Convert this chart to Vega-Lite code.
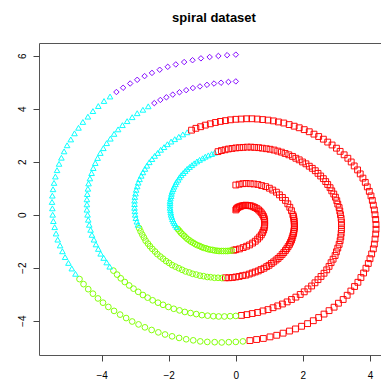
{
  "$schema": "https://vega.github.io/schema/vega-lite/v6.json",
  "width": 350,
  "height": 312,
  "autosize": {"type": "none"},
  "padding": {"left": 39, "top": 43, "right": -8, "bottom": 29},
  "background": "white",
  "title": {"text": "spiral dataset", "font": "Liberation Sans", "fontSize": 13, "fontWeight": "bold", "color": "#000000", "anchor": "middle", "frame": "group", "baseline": "alphabetic", "offset": 8},
  "config": {
    "view": {"stroke": "#555555", "strokeWidth": 1},
    "axis": {"grid": false, "domain": false, "tickColor": "#444444", "tickSize": 6, "labelFont": "Liberation Sans", "labelFontSize": 10, "labelColor": "#000000", "title": null}
  },
  "data": {"values": [
    {"x":0,"y":0.18,"c":1},{"x":0.02,"y":0.22,"c":1},{"x":0.04,"y":0.25,"c":1},{"x":0.07,"y":0.28,"c":1},{"x":0.11,"y":0.30,"c":1},{"x":0.15,"y":0.32,"c":1},{"x":0.20,"y":0.34,"c":1},{"x":0.25,"y":0.35,"c":1},{"x":0.30,"y":0.36,"c":1},
    {"x":0.35,"y":0.35,"c":1},{"x":0.41,"y":0.34,"c":1},{"x":0.46,"y":0.33,"c":1},{"x":0.52,"y":0.30,"c":1},{"x":0.57,"y":0.27,"c":1},{"x":0.63,"y":0.23,"c":1},{"x":0.68,"y":0.18,"c":1},{"x":0.72,"y":0.13,"c":1},{"x":0.76,"y":0.07,"c":1},
    {"x":0.80,"y":0,"c":1},{"x":0.83,"y":-0.07,"c":1},{"x":0.85,"y":-0.15,"c":1},{"x":0.86,"y":-0.23,"c":1},{"x":0.86,"y":-0.31,"c":1},{"x":0.86,"y":-0.40,"c":1},{"x":0.85,"y":-0.49,"c":1},{"x":0.83,"y":-0.58,"c":1},{"x":0.80,"y":-0.67,"c":1},
    {"x":0.76,"y":-0.76,"c":1},{"x":0.71,"y":-0.84,"c":1},{"x":0.65,"y":-0.92,"c":1},{"x":0.58,"y":-1.00,"c":1},{"x":0.50,"y":-1.07,"c":1},{"x":0.41,"y":-1.14,"c":1},{"x":0.32,"y":-1.19,"c":1},{"x":0.22,"y":-1.24,"c":1},{"x":0.11,"y":-1.29,"c":1},
    {"x":0,"y":-1.32,"c":1},{"x":-0.06,"y":-1.34,"c":1},
    {"x":-0.12,"y":-1.35,"c":2},{"x":-0.18,"y":-1.36,"c":2},{"x":-0.24,"y":-1.37,"c":2},{"x":-0.30,"y":-1.37,"c":2},{"x":-0.37,"y":-1.37,"c":2},{"x":-0.43,"y":-1.37,"c":2},{"x":-0.50,"y":-1.37,"c":2},{"x":-0.56,"y":-1.36,"c":2},{"x":-0.63,"y":-1.35,"c":2},{"x":-0.69,"y":-1.33,"c":2},{"x":-0.76,"y":-1.32,"c":2},{"x":-0.83,"y":-1.30,"c":2},{"x":-0.89,"y":-1.27,"c":2},{"x":-0.96,"y":-1.25,"c":2},{"x":-1.02,"y":-1.22,"c":2},{"x":-1.08,"y":-1.18,"c":2},
    {"x":-1.15,"y":-1.15,"c":2},{"x":-1.21,"y":-1.11,"c":2},{"x":-1.27,"y":-1.06,"c":2},{"x":-1.33,"y":-1.02,"c":2},{"x":-1.38,"y":-0.97,"c":2},{"x":-1.44,"y":-0.92,"c":2},{"x":-1.49,"y":-0.86,"c":2},{"x":-1.54,"y":-0.80,"c":2},{"x":-1.59,"y":-0.74,"c":2},{"x":-1.64,"y":-0.68,"c":2},{"x":-1.68,"y":-0.61,"c":2},{"x":-1.73,"y":-0.54,"c":2},
    {"x":-1.76,"y":-0.47,"c":3},{"x":-1.80,"y":-0.40,"c":3},{"x":-1.83,"y":-0.32,"c":3},{"x":-1.86,"y":-0.25,"c":3},{"x":-1.89,"y":-0.17,"c":3},{"x":-1.91,"y":-0.08,"c":3},
    {"x":-1.93,"y":0,"c":3},{"x":-1.94,"y":0.08,"c":3},{"x":-1.95,"y":0.17,"c":3},{"x":-1.96,"y":0.26,"c":3},{"x":-1.96,"y":0.35,"c":3},{"x":-1.96,"y":0.44,"c":3},{"x":-1.96,"y":0.52,"c":3},{"x":-1.95,"y":0.61,"c":3},{"x":-1.93,"y":0.70,"c":3},{"x":-1.92,"y":0.79,"c":3},{"x":-1.90,"y":0.88,"c":3},{"x":-1.87,"y":0.97,"c":3},{"x":-1.84,"y":1.06,"c":3},{"x":-1.80,"y":1.15,"c":3},{"x":-1.77,"y":1.24,"c":3},{"x":-1.72,"y":1.32,"c":3},{"x":-1.68,"y":1.41,"c":3},{"x":-1.63,"y":1.49,"c":3},
    {"x":-1.57,"y":1.57,"c":3},{"x":-1.51,"y":1.65,"c":3},{"x":-1.45,"y":1.73,"c":3},{"x":-1.38,"y":1.80,"c":3},{"x":-1.31,"y":1.87,"c":3},{"x":-1.24,"y":1.94,"c":3},{"x":-1.16,"y":2.01,"c":3},{"x":-1.08,"y":2.07,"c":3},{"x":-0.99,"y":2.13,"c":3},{"x":-0.91,"y":2.19,"c":3},{"x":-0.82,"y":2.24,"c":3},{"x":-0.72,"y":2.29,"c":3},{"x":-0.63,"y":2.34,"c":3},
    {"x":-0.53,"y":2.38,"c":1},{"x":-0.43,"y":2.42,"c":1},{"x":-0.32,"y":2.45,"c":1},{"x":-0.22,"y":2.48,"c":1},{"x":-0.11,"y":2.50,"c":1},
    {"x":0,"y":2.52,"c":1},{"x":0.11,"y":2.53,"c":1},{"x":0.22,"y":2.54,"c":1},{"x":0.34,"y":2.55,"c":1},{"x":0.45,"y":2.55,"c":1},{"x":0.56,"y":2.54,"c":1},{"x":0.68,"y":2.53,"c":1},{"x":0.79,"y":2.51,"c":1},{"x":0.91,"y":2.49,"c":1},{"x":1.02,"y":2.47,"c":1},{"x":1.14,"y":2.44,"c":1},{"x":1.25,"y":2.40,"c":1},{"x":1.36,"y":2.36,"c":1},{"x":1.47,"y":2.31,"c":1},{"x":1.58,"y":2.26,"c":1},{"x":1.69,"y":2.20,"c":1},{"x":1.79,"y":2.13,"c":1},{"x":1.89,"y":2.07,"c":1},
    {"x":1.99,"y":1.99,"c":1},{"x":2.09,"y":1.92,"c":1},{"x":2.19,"y":1.83,"c":1},{"x":2.28,"y":1.75,"c":1},{"x":2.37,"y":1.66,"c":1},{"x":2.45,"y":1.56,"c":1},{"x":2.53,"y":1.46,"c":1},{"x":2.61,"y":1.36,"c":1},{"x":2.68,"y":1.25,"c":1},{"x":2.74,"y":1.14,"c":1},{"x":2.81,"y":1.02,"c":1},{"x":2.86,"y":0.90,"c":1},{"x":2.92,"y":0.78,"c":1},{"x":2.97,"y":0.66,"c":1},{"x":3.01,"y":0.53,"c":1},{"x":3.04,"y":0.40,"c":1},{"x":3.08,"y":0.27,"c":1},{"x":3.10,"y":0.14,"c":1},
    {"x":3.12,"y":0,"c":1},{"x":3.14,"y":-0.14,"c":1},{"x":3.15,"y":-0.28,"c":1},{"x":3.15,"y":-0.41,"c":1},{"x":3.15,"y":-0.56,"c":1},{"x":3.14,"y":-0.70,"c":1},{"x":3.13,"y":-0.84,"c":1},{"x":3.11,"y":-0.98,"c":1},{"x":3.08,"y":-1.12,"c":1},{"x":3.04,"y":-1.26,"c":1},{"x":3.00,"y":-1.40,"c":1},{"x":2.96,"y":-1.54,"c":1},{"x":2.90,"y":-1.68,"c":1},{"x":2.84,"y":-1.81,"c":1},{"x":2.78,"y":-1.95,"c":1},{"x":2.71,"y":-2.08,"c":1},{"x":2.63,"y":-2.21,"c":1},{"x":2.54,"y":-2.33,"c":1},
    {"x":2.45,"y":-2.45,"c":1},{"x":2.36,"y":-2.57,"c":1},{"x":2.26,"y":-2.69,"c":1},{"x":2.15,"y":-2.80,"c":1},{"x":2.04,"y":-2.91,"c":1},{"x":1.92,"y":-3.01,"c":1},{"x":1.79,"y":-3.11,"c":1},{"x":1.66,"y":-3.20,"c":1},{"x":1.53,"y":-3.29,"c":1},{"x":1.39,"y":-3.37,"c":1},{"x":1.25,"y":-3.44,"c":1},{"x":1.11,"y":-3.51,"c":1},{"x":0.96,"y":-3.58,"c":1},{"x":0.81,"y":-3.63,"c":1},{"x":0.65,"y":-3.69,"c":1},{"x":0.49,"y":-3.73,"c":1},{"x":0.33,"y":-3.77,"c":1},{"x":0.17,"y":-3.80,"c":1},
    {"x":0,"y":-3.82,"c":2},{"x":-0.17,"y":-3.83,"c":2},{"x":-0.34,"y":-3.84,"c":2},{"x":-0.51,"y":-3.84,"c":2},{"x":-0.67,"y":-3.83,"c":2},{"x":-0.84,"y":-3.81,"c":2},{"x":-1.01,"y":-3.79,"c":2},{"x":-1.18,"y":-3.75,"c":2},{"x":-1.35,"y":-3.71,"c":2},{"x":-1.52,"y":-3.67,"c":2},{"x":-1.68,"y":-3.61,"c":2},{"x":-1.85,"y":-3.55,"c":2},{"x":-2.01,"y":-3.48,"c":2},{"x":-2.17,"y":-3.40,"c":2},{"x":-2.32,"y":-3.32,"c":2},{"x":-2.48,"y":-3.23,"c":2},{"x":-2.63,"y":-3.13,"c":2},{"x":-2.77,"y":-3.03,"c":2},
    {"x":-2.91,"y":-2.91,"c":2},{"x":-3.05,"y":-2.79,"c":2},{"x":-3.18,"y":-2.67,"c":2},{"x":-3.31,"y":-2.54,"c":2},{"x":-3.43,"y":-2.40,"c":2},{"x":-3.54,"y":-2.26,"c":2},{"x":-3.65,"y":-2.11,"c":2},
    {"x":-3.76,"y":-1.96,"c":3},{"x":-3.85,"y":-1.80,"c":3},{"x":-3.94,"y":-1.63,"c":3},{"x":-4.03,"y":-1.47,"c":3},{"x":-4.10,"y":-1.29,"c":3},{"x":-4.17,"y":-1.12,"c":3},{"x":-4.23,"y":-0.94,"c":3},{"x":-4.29,"y":-0.76,"c":3},{"x":-4.33,"y":-0.57,"c":3},{"x":-4.37,"y":-0.38,"c":3},{"x":-4.40,"y":-0.19,"c":3},
    {"x":-4.42,"y":0,"c":3},{"x":-4.44,"y":0.19,"c":3},{"x":-4.44,"y":0.39,"c":3},{"x":-4.44,"y":0.58,"c":3},{"x":-4.43,"y":0.78,"c":3},{"x":-4.41,"y":0.98,"c":3},{"x":-4.39,"y":1.18,"c":3},{"x":-4.35,"y":1.37,"c":3},{"x":-4.30,"y":1.57,"c":3},{"x":-4.25,"y":1.76,"c":3},{"x":-4.19,"y":1.95,"c":3},{"x":-4.12,"y":2.14,"c":3},{"x":-4.04,"y":2.33,"c":3},{"x":-3.95,"y":2.51,"c":3},{"x":-3.85,"y":2.70,"c":3},{"x":-3.74,"y":2.87,"c":3},{"x":-3.63,"y":3.05,"c":3},{"x":-3.51,"y":3.22,"c":3},
    {"x":-3.38,"y":3.38,"c":3},{"x":-3.24,"y":3.53,"c":3},{"x":-3.09,"y":3.68,"c":3},{"x":-2.94,"y":3.83,"c":3},{"x":-2.77,"y":3.96,"c":3},{"x":-2.61,"y":4.09,"c":3},
    {"x":-2.43,"y":4.21,"c":4},{"x":-2.25,"y":4.33,"c":4},{"x":-2.07,"y":4.43,"c":4},{"x":-1.88,"y":4.53,"c":4},{"x":-1.68,"y":4.62,"c":4},{"x":-1.48,"y":4.70,"c":4},{"x":-1.28,"y":4.78,"c":4},{"x":-1.07,"y":4.84,"c":4},{"x":-0.86,"y":4.90,"c":4},{"x":-0.65,"y":4.95,"c":4},{"x":-0.44,"y":4.98,"c":4},{"x":-0.22,"y":5.01,"c":4},{"x":0,"y":5.03,"c":4},

    {"x":0,"y":1.12,"c":1},{"x":0.10,"y":1.15,"c":1},{"x":0.21,"y":1.17,"c":1},{"x":0.31,"y":1.18,"c":1},{"x":0.43,"y":1.17,"c":1},{"x":0.54,"y":1.16,"c":1},{"x":0.66,"y":1.14,"c":1},{"x":0.77,"y":1.10,"c":1},{"x":0.89,"y":1.06,"c":1},
    {"x":1.00,"y":1.00,"c":1},{"x":1.10,"y":0.93,"c":1},{"x":1.21,"y":0.85,"c":1},{"x":1.30,"y":0.75,"c":1},{"x":1.39,"y":0.65,"c":1},{"x":1.48,"y":0.54,"c":1},{"x":1.55,"y":0.41,"c":1},{"x":1.61,"y":0.28,"c":1},{"x":1.66,"y":0.15,"c":1},
    {"x":1.70,"y":0,"c":1},{"x":1.72,"y":-0.07,"c":1},{"x":1.73,"y":-0.15,"c":1},{"x":1.74,"y":-0.23,"c":1},{"x":1.74,"y":-0.31,"c":1},{"x":1.75,"y":-0.39,"c":1},{"x":1.75,"y":-0.47,"c":1},{"x":1.74,"y":-0.55,"c":1},{"x":1.73,"y":-0.63,"c":1},{"x":1.72,"y":-0.71,"c":1},{"x":1.70,"y":-0.79,"c":1},{"x":1.68,"y":-0.88,"c":1},{"x":1.66,"y":-0.96,"c":1},{"x":1.63,"y":-1.04,"c":1},{"x":1.60,"y":-1.12,"c":1},{"x":1.56,"y":-1.20,"c":1},{"x":1.52,"y":-1.28,"c":1},{"x":1.48,"y":-1.35,"c":1},
    {"x":1.43,"y":-1.43,"c":1},{"x":1.38,"y":-1.50,"c":1},{"x":1.32,"y":-1.58,"c":1},{"x":1.26,"y":-1.65,"c":1},{"x":1.20,"y":-1.71,"c":1},{"x":1.13,"y":-1.78,"c":1},{"x":1.06,"y":-1.84,"c":1},{"x":0.99,"y":-1.91,"c":1},{"x":0.92,"y":-1.96,"c":1},{"x":0.84,"y":-2.02,"c":1},{"x":0.75,"y":-2.07,"c":1},{"x":0.67,"y":-2.12,"c":1},{"x":0.58,"y":-2.16,"c":1},{"x":0.49,"y":-2.20,"c":1},{"x":0.40,"y":-2.24,"c":1},{"x":0.30,"y":-2.28,"c":1},{"x":0.20,"y":-2.30,"c":1},{"x":0.10,"y":-2.33,"c":1},
    {"x":0,"y":-2.35,"c":1},{"x":-0.10,"y":-2.37,"c":1},{"x":-0.21,"y":-2.38,"c":1},{"x":-0.31,"y":-2.38,"c":1},
    {"x":-0.42,"y":-2.39,"c":2},{"x":-0.53,"y":-2.38,"c":2},{"x":-0.64,"y":-2.38,"c":2},{"x":-0.75,"y":-2.36,"c":2},{"x":-0.85,"y":-2.35,"c":2},{"x":-0.96,"y":-2.32,"c":2},{"x":-1.07,"y":-2.30,"c":2},{"x":-1.18,"y":-2.26,"c":2},{"x":-1.29,"y":-2.23,"c":2},{"x":-1.39,"y":-2.18,"c":2},{"x":-1.50,"y":-2.14,"c":2},{"x":-1.60,"y":-2.08,"c":2},{"x":-1.70,"y":-2.02,"c":2},{"x":-1.80,"y":-1.96,"c":2},
    {"x":-1.90,"y":-1.90,"c":2},{"x":-1.99,"y":-1.82,"c":2},{"x":-2.08,"y":-1.75,"c":2},{"x":-2.17,"y":-1.66,"c":2},{"x":-2.25,"y":-1.58,"c":2},{"x":-2.34,"y":-1.49,"c":2},{"x":-2.41,"y":-1.39,"c":2},{"x":-2.49,"y":-1.29,"c":2},{"x":-2.56,"y":-1.19,"c":2},{"x":-2.62,"y":-1.09,"c":2},{"x":-2.69,"y":-0.98,"c":2},{"x":-2.74,"y":-0.86,"c":2},{"x":-2.79,"y":-0.75,"c":2},{"x":-2.84,"y":-0.63,"c":2},{"x":-2.88,"y":-0.51,"c":2},
    {"x":-2.92,"y":-0.38,"c":3},{"x":-2.95,"y":-0.26,"c":3},{"x":-2.98,"y":-0.13,"c":3},
    {"x":-3.00,"y":0,"c":3},{"x":-3.01,"y":0.13,"c":3},{"x":-3.02,"y":0.26,"c":3},{"x":-3.02,"y":0.40,"c":3},{"x":-3.02,"y":0.53,"c":3},{"x":-3.01,"y":0.67,"c":3},{"x":-2.99,"y":0.80,"c":3},{"x":-2.97,"y":0.94,"c":3},{"x":-2.94,"y":1.07,"c":3},{"x":-2.91,"y":1.21,"c":3},{"x":-2.87,"y":1.34,"c":3},{"x":-2.82,"y":1.47,"c":3},{"x":-2.77,"y":1.60,"c":3},{"x":-2.71,"y":1.73,"c":3},{"x":-2.65,"y":1.85,"c":3},{"x":-2.58,"y":1.98,"c":3},{"x":-2.50,"y":2.10,"c":3},{"x":-2.42,"y":2.22,"c":3},
    {"x":-2.33,"y":2.33,"c":3},{"x":-2.24,"y":2.45,"c":3},{"x":-2.14,"y":2.55,"c":3},{"x":-2.04,"y":2.66,"c":3},{"x":-1.93,"y":2.76,"c":3},{"x":-1.82,"y":2.85,"c":3},{"x":-1.70,"y":2.94,"c":3},{"x":-1.58,"y":3.03,"c":3},{"x":-1.45,"y":3.11,"c":3},
    {"x":-1.32,"y":3.19,"c":1},{"x":-1.19,"y":3.26,"c":1},{"x":-1.05,"y":3.32,"c":1},{"x":-0.91,"y":3.38,"c":1},{"x":-0.76,"y":3.43,"c":1},{"x":-0.61,"y":3.48,"c":1},{"x":-0.46,"y":3.52,"c":1},{"x":-0.31,"y":3.55,"c":1},{"x":-0.16,"y":3.58,"c":1},
    {"x":0,"y":3.60,"c":1},{"x":0.16,"y":3.61,"c":1},{"x":0.32,"y":3.62,"c":1},{"x":0.48,"y":3.62,"c":1},{"x":0.64,"y":3.61,"c":1},{"x":0.80,"y":3.59,"c":1},{"x":0.96,"y":3.57,"c":1},{"x":1.12,"y":3.54,"c":1},{"x":1.27,"y":3.50,"c":1},{"x":1.43,"y":3.46,"c":1},{"x":1.59,"y":3.40,"c":1},{"x":1.74,"y":3.34,"c":1},{"x":1.89,"y":3.28,"c":1},{"x":2.04,"y":3.21,"c":1},{"x":2.19,"y":3.13,"c":1},{"x":2.33,"y":3.04,"c":1},{"x":2.47,"y":2.95,"c":1},{"x":2.61,"y":2.85,"c":1},
    {"x":2.74,"y":2.74,"c":1},{"x":2.87,"y":2.63,"c":1},{"x":3.00,"y":2.51,"c":1},{"x":3.11,"y":2.39,"c":1},{"x":3.23,"y":2.26,"c":1},{"x":3.34,"y":2.13,"c":1},{"x":3.44,"y":1.99,"c":1},{"x":3.53,"y":1.84,"c":1},{"x":3.63,"y":1.69,"c":1},{"x":3.71,"y":1.54,"c":1},{"x":3.79,"y":1.38,"c":1},{"x":3.86,"y":1.22,"c":1},{"x":3.92,"y":1.05,"c":1},{"x":3.98,"y":0.88,"c":1},{"x":4.03,"y":0.71,"c":1},{"x":4.07,"y":0.54,"c":1},{"x":4.10,"y":0.36,"c":1},{"x":4.13,"y":0.18,"c":1},
    {"x":4.15,"y":0,"c":1},{"x":4.17,"y":-0.18,"c":1},{"x":4.18,"y":-0.37,"c":1},{"x":4.18,"y":-0.55,"c":1},{"x":4.17,"y":-0.73,"c":1},{"x":4.15,"y":-0.92,"c":1},{"x":4.13,"y":-1.11,"c":1},{"x":4.10,"y":-1.29,"c":1},{"x":4.05,"y":-1.48,"c":1},{"x":4.00,"y":-1.66,"c":1},{"x":3.95,"y":-1.84,"c":1},{"x":3.88,"y":-2.02,"c":1},{"x":3.81,"y":-2.20,"c":1},{"x":3.73,"y":-2.37,"c":1},{"x":3.64,"y":-2.55,"c":1},{"x":3.54,"y":-2.71,"c":1},{"x":3.43,"y":-2.88,"c":1},{"x":3.32,"y":-3.04,"c":1},
    {"x":3.20,"y":-3.20,"c":1},{"x":3.06,"y":-3.34,"c":1},{"x":2.93,"y":-3.49,"c":1},{"x":2.78,"y":-3.62,"c":1},{"x":2.63,"y":-3.75,"c":1},{"x":2.47,"y":-3.88,"c":1},{"x":2.31,"y":-4.00,"c":1},{"x":2.14,"y":-4.11,"c":1},{"x":1.96,"y":-4.21,"c":1},{"x":1.78,"y":-4.31,"c":1},{"x":1.60,"y":-4.39,"c":1},{"x":1.41,"y":-4.47,"c":1},{"x":1.22,"y":-4.55,"c":1},{"x":1.02,"y":-4.61,"c":1},{"x":0.82,"y":-4.67,"c":1},{"x":0.62,"y":-4.71,"c":1},{"x":0.42,"y":-4.75,"c":1},
    {"x":0.21,"y":-4.78,"c":2},{"x":0,"y":-4.80,"c":2},{"x":-0.21,"y":-4.81,"c":2},{"x":-0.42,"y":-4.82,"c":2},{"x":-0.63,"y":-4.81,"c":2},{"x":-0.85,"y":-4.80,"c":2},{"x":-1.06,"y":-4.78,"c":2},{"x":-1.27,"y":-4.74,"c":2},{"x":-1.48,"y":-4.70,"c":2},{"x":-1.69,"y":-4.65,"c":2},{"x":-1.90,"y":-4.59,"c":2},{"x":-2.11,"y":-4.52,"c":2},{"x":-2.31,"y":-4.44,"c":2},{"x":-2.51,"y":-4.35,"c":2},{"x":-2.71,"y":-4.25,"c":2},{"x":-2.90,"y":-4.14,"c":2},{"x":-3.09,"y":-4.03,"c":2},{"x":-3.27,"y":-3.90,"c":2},{"x":-3.45,"y":-3.77,"c":2},
    {"x":-3.63,"y":-3.63,"c":2},{"x":-3.80,"y":-3.48,"c":2},{"x":-3.96,"y":-3.32,"c":2},{"x":-4.11,"y":-3.16,"c":2},{"x":-4.26,"y":-2.98,"c":2},{"x":-4.40,"y":-2.81,"c":2},{"x":-4.54,"y":-2.62,"c":2},{"x":-4.66,"y":-2.43,"c":2},
    {"x":-4.78,"y":-2.23,"c":3},{"x":-4.89,"y":-2.03,"c":3},{"x":-4.99,"y":-1.82,"c":3},{"x":-5.09,"y":-1.60,"c":3},{"x":-5.17,"y":-1.38,"c":3},{"x":-5.24,"y":-1.16,"c":3},{"x":-5.31,"y":-0.94,"c":3},{"x":-5.36,"y":-0.71,"c":3},{"x":-5.40,"y":-0.47,"c":3},{"x":-5.44,"y":-0.24,"c":3},
    {"x":-5.46,"y":0,"c":3},{"x":-5.47,"y":0.24,"c":3},{"x":-5.48,"y":0.48,"c":3},{"x":-5.47,"y":0.72,"c":3},{"x":-5.45,"y":0.96,"c":3},{"x":-5.42,"y":1.20,"c":3},{"x":-5.38,"y":1.44,"c":3},{"x":-5.33,"y":1.68,"c":3},{"x":-5.27,"y":1.92,"c":3},{"x":-5.20,"y":2.15,"c":3},{"x":-5.12,"y":2.39,"c":3},{"x":-5.03,"y":2.62,"c":3},{"x":-4.92,"y":2.84,"c":3},{"x":-4.81,"y":3.07,"c":3},{"x":-4.69,"y":3.28,"c":3},{"x":-4.56,"y":3.50,"c":3},{"x":-4.41,"y":3.70,"c":3},{"x":-4.26,"y":3.91,"c":3},
    {"x":-4.10,"y":4.10,"c":3},{"x":-3.93,"y":4.29,"c":3},{"x":-3.75,"y":4.46,"c":3},
    {"x":-3.56,"y":4.63,"c":4},{"x":-3.36,"y":4.79,"c":4},{"x":-3.15,"y":4.95,"c":4},{"x":-2.94,"y":5.09,"c":4},{"x":-2.72,"y":5.23,"c":4},{"x":-2.50,"y":5.35,"c":4},{"x":-2.27,"y":5.47,"c":4},{"x":-2.03,"y":5.58,"c":4},{"x":-1.79,"y":5.67,"c":4},{"x":-1.54,"y":5.76,"c":4},{"x":-1.29,"y":5.83,"c":4},{"x":-1.04,"y":5.90,"c":4},{"x":-0.78,"y":5.95,"c":4},{"x":-0.52,"y":5.99,"c":4},{"x":-0.26,"y":6.02,"c":4},{"x":0,"y":6.04,"c":4}
  ]},
  "mark": {"type": "point", "filled": false, "strokeWidth": 1, "opacity": 0.95},
  "encoding": {
    "x": {"field": "x", "type": "quantitative", "scale": {"domain": [-5.868, 4.567], "nice": false, "zero": false}, "axis": {"values": [-4, -2, 0, 2, 4], "labelPadding": 9, "title": null}},
    "y": {"field": "y", "type": "quantitative", "scale": {"domain": [-5.294, 6.479], "nice": false, "zero": false}, "axis": {"values": [-4, -2, 0, 2, 4, 6], "labelAngle": 270, "labelAlign": "center", "labelBaseline": "alphabetic", "labelPadding": 8, "title": null}},
    "color": {"field": "c", "type": "nominal", "scale": {"domain": [1, 2, 3, 4], "range": ["#FF0000", "#80FF00", "#00FFFF", "#8000FF"]}, "legend": null},
    "shape": {"field": "c", "type": "nominal", "scale": {"domain": [1, 2, 3, 4], "range": ["square", "circle", "triangle-up", "diamond"]}, "legend": null},
    "size": {"field": "c", "type": "nominal", "scale": {"domain": [1, 2, 3, 4], "range": [34, 30, 40, 46]}, "legend": null}
  }
}
